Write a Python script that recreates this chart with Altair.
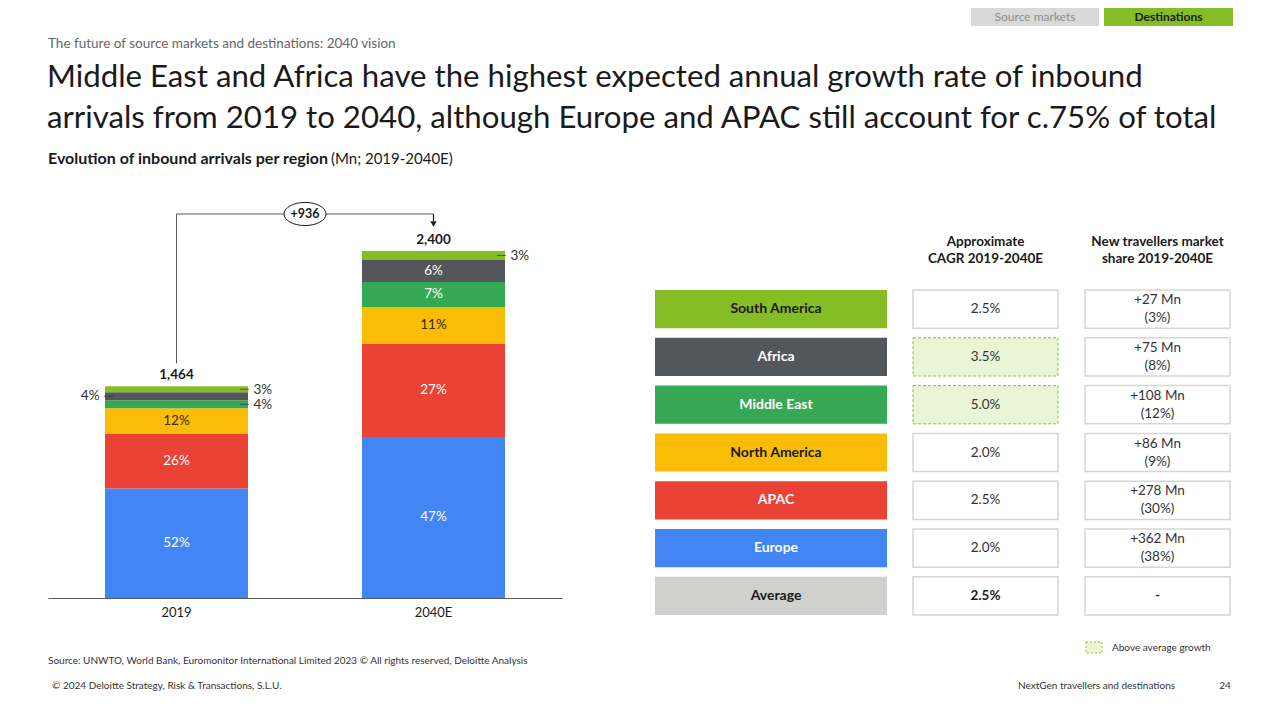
import altair as alt
import pandas as pd

# ---------------- data ----------------
regions = ["Europe", "APAC", "North America", "Middle East", "Africa", "South America"]
years = ["2019", "2040E"]
arrivals_2019 = [757, 378, 178, 55, 55, 41]
arrivals_2040 = [1114, 643, 256, 173, 152, 62]
share_2019 = [52, 26, 12, 4, 4, 3]
share_2040 = [47, 27, 11, 7, 6, 3]

table_rows = ["South America", "Africa", "Middle East", "North America", "APAC", "Europe", "Average"]
cagr = [2.5, 3.5, 5.0, 2.0, 2.5, 2.0, 2.5]
new_mn = [27, 75, 108, 86, 278, 362, None]
new_share = [3, 8, 12, 9, 30, 38, None]

region_colors = {
    "Europe": "#4285F4", "APAC": "#EA4335", "North America": "#FBBC05",
    "Middle East": "#34A853", "Africa": "#53565A", "South America": "#86BC25",
    "Average": "#D0D0CE",
}

SUPTITLE = "The future of source markets and destinations: 2040 vision"
TITLE_1 = "Middle East and Africa have the highest expected annual growth rate of inbound"
TITLE_2 = "arrivals from 2019 to 2040, although Europe and APAC still account for c.75% of total"
SUB_BOLD = "Evolution of inbound arrivals per region"
SUB_REST = "(Mn; 2019-2040E)"
SOURCE = "Source: UNWTO, World Bank, Euromonitor International Limited 2023 © All rights reserved, Deloitte Analysis"
COPYRIGHT = "© 2024 Deloitte Strategy, Risk & Transactions, S.L.U."
FOOT_RIGHT = "NextGen travellers and destinations"
PAGE_NO = "24"
TABS = ["Source markets", "Destinations"]
HEAD_CAGR = ["Approximate", "CAGR 2019-2040E"]
HEAD_NEW = ["New travellers market", "share 2019-2040E"]
LEGEND_TXT = "Above average growth"

FONT = "Lato"
DARK = "#1a1a1a"
OX, OY = 8, 8  # page margin


def px(x):
    return x - OX


def py(y):
    return y - OY


# ---------------- bar data ----------------
rows = []
for yr, vals, shs in [(years[0], arrivals_2019, share_2019), (years[1], arrivals_2040, share_2040)]:
    for i, (r, v, s) in enumerate(zip(regions, vals, shs)):
        rows.append({"year": yr, "region": r, "value": v, "share": s, "ord": i})
bars_df = pd.DataFrame(rows)
tot_2019 = sum(arrivals_2019)
tot_2040 = sum(arrivals_2040)
growth_label = f"+{tot_2040 - tot_2019:,}"

xs = alt.Scale(domain=years, range=[px(48), px(562)], paddingInner=0.4436, paddingOuter=0.2218)
ys = alt.Scale(domain=[0, tot_2040], range=[py(598), py(251)])
xaxis = alt.Axis(title=None, ticks=False, domainColor="#595959", domainWidth=1,
                 labelFont=FONT, labelFontSize=13, labelColor=DARK, labelPadding=8,
                 labelAngle=0, offset=-110, orient="bottom", grid=False)
X = alt.X("year:N", scale=xs, axis=xaxis)
color_scale = alt.Scale(domain=list(region_colors.keys()), range=list(region_colors.values()))

base = alt.Chart(bars_df)
bars = base.mark_bar().encode(
    x=X,
    y=alt.Y("value:Q", scale=ys, axis=None, stack="zero"),
    color=alt.Color("region:N", scale=color_scale, legend=None),
    order=alt.Order("ord:Q", sort="ascending"),
)

stacked = base.transform_stack(
    stack="value", groupby=["year"], sort=[alt.SortField("ord", order="ascending")], as_=["v0", "v1"]
).transform_calculate(mid="(datum.v0 + datum.v1) / 2", lbl="datum.share + '%'")

inside = stacked.transform_filter("datum.value >= 100").mark_text(
    font=FONT, fontSize=13.5, baseline="middle"
).encode(
    x=X, y=alt.Y("mid:Q", scale=ys, axis=None), text="lbl:N",
    color=alt.condition("datum.region == 'North America'", alt.value("#3a2a00"), alt.value("white")),
)
small = stacked.transform_filter("datum.value < 100")
right_lbl = small.transform_filter("datum.region != 'Africa'").mark_text(
    font=FONT, fontSize=13.5, baseline="middle", align="left", dx=77, dy=1, color="#333333"
).encode(x=X, y=alt.Y("mid:Q", scale=ys, axis=None), text="lbl:N")
left_lbl = small.transform_filter("datum.region == 'Africa'").mark_text(
    font=FONT, fontSize=13.5, baseline="middle", align="right", dx=-77, color="#333333"
).encode(x=X, y=alt.Y("mid:Q", scale=ys, axis=None), text="lbl:N")
right_lead = small.transform_filter("datum.region != 'Africa'").mark_tick(
    orient="horizontal", size=9, thickness=1, xOffset=68, color="#333333"
).encode(x=X, y=alt.Y("mid:Q", scale=ys, axis=None))
left_lead = small.transform_filter("datum.region == 'Africa'").mark_tick(
    orient="horizontal", size=9, thickness=1, xOffset=-68, color="#333333"
).encode(x=X, y=alt.Y("mid:Q", scale=ys, axis=None))

totals = base.transform_aggregate(total="sum(value)", groupby=["year"])
total_lbl = totals.mark_text(font=FONT, fontSize=13.5, fontWeight="bold", baseline="middle", dy=-11, color=DARK).encode(
    x=X, y=alt.Y("total:Q", scale=ys, axis=None), text=alt.Text("total:Q", format=",")
)
conn_up = totals.transform_filter(alt.datum.year == years[0]).mark_rule(
    color="#595959", strokeWidth=1, yOffset=-23
).encode(x=X, y=alt.Y("total:Q", scale=ys, axis=None), y2=alt.value(py(214)))
conn_h = totals.mark_line(color="#595959", strokeWidth=1).encode(x=X, y=alt.value(py(214)))
conn_down = totals.transform_filter(alt.datum.year == years[1]).mark_rule(
    color="#1a1a1a", strokeWidth=1.2
).encode(x=X, y=alt.value(py(214)), y2=alt.value(py(221)))
arrow = totals.transform_filter(alt.datum.year == years[1]).mark_point(
    shape="triangle-down", filled=True, size=40, color="#1a1a1a", opacity=1
).encode(x=X, y=alt.value(py(224)))

ellipse_path = "M -1 0 A 1 0.55 0 1 0 1 0 A 1 0.55 0 1 0 -1 0 Z"
ellipse = alt.Chart(alt.Data(values=[{"t": growth_label}])).mark_point(
    shape=ellipse_path, size=1764, filled=True, fill="white", stroke="#1a1a1a", strokeWidth=1, opacity=1
).encode(x=alt.value(px(305)), y=alt.value(py(214)))
ellipse_txt = alt.Chart(alt.Data(values=[{"t": growth_label}])).mark_text(
    font=FONT, fontSize=12.5, fontWeight="bold", baseline="middle", color=DARK
).encode(x=alt.value(px(305)), y=alt.value(py(214)), text="t:N")

bar_group = alt.layer(bars, inside, right_lead, left_lead, right_lbl, left_lbl, total_lbl,
                      conn_up, conn_h, conn_down, arrow)

# ---------------- table ----------------
table_df = pd.DataFrame({"region": table_rows, "cagr": cagr, "new_mn": new_mn, "new_share": new_share})
avg_cagr = cagr[table_rows.index("Average")]
ty = alt.Scale(domain=table_rows, range=[py(290), py(615)], paddingInner=0.2, paddingOuter=0)
Y = alt.Y("region:N", scale=ty, axis=None)
tbase = alt.Chart(table_df)

lab_rect = tbase.mark_rect().encode(
    x=alt.value(px(655)), x2=alt.value(px(887)), y=Y,
    color=alt.Color("region:N", scale=color_scale, legend=None),
)
lab_txt = tbase.mark_text(font=FONT, fontSize=14, fontWeight="bold", baseline="middle").encode(
    x=alt.value(px(776)), y=Y, text="region:N",
    color=alt.condition(
        "datum.region == 'South America' || datum.region == 'North America' || datum.region == 'Average'",
        alt.value(DARK), alt.value("white")),
)
hi_expr = f"datum.region != 'Average' && datum.cagr > {avg_cagr}"
cagr_rect = tbase.transform_filter(f"!({hi_expr})").mark_rect(
    fill="white", stroke="#D6D6D6", strokeWidth=1.5
).encode(x=alt.value(px(913)), x2=alt.value(px(1058)), y=Y)
cagr_hi = tbase.transform_filter(hi_expr).mark_rect(
    fill="#E8F5D6", stroke="#8DBF3A", strokeWidth=1, strokeDash=[3, 2]
).encode(x=alt.value(px(913)), x2=alt.value(px(1058)), y=Y)
tcalc = tbase.transform_calculate(
    cagr_lbl="format(datum.cagr, '.1f') + '%'",
    nt_lbl="datum.new_mn == null ? '-' : '+' + datum.new_mn + ' Mn\\n(' + datum.new_share + '%)'",
)
cagr_txt = tcalc.transform_filter("datum.region != 'Average'").mark_text(
    font=FONT, fontSize=13.5, baseline="middle", color="#333333"
).encode(x=alt.value(px(985.5)), y=Y, text="cagr_lbl:N")
cagr_avg = tcalc.transform_filter("datum.region == 'Average'").mark_text(
    font=FONT, fontSize=13.5, fontWeight="bold", baseline="middle", color=DARK
).encode(x=alt.value(px(985.5)), y=Y, text="cagr_lbl:N")
nt_rect = tbase.mark_rect(fill="white", stroke="#D6D6D6", strokeWidth=1.5).encode(
    x=alt.value(px(1085)), x2=alt.value(px(1230)), y=Y)
nt_two = tcalc.transform_filter("datum.new_mn != null").mark_text(
    font=FONT, fontSize=13.5, baseline="middle", color="#333333", lineBreak="\n", lineHeight=18, dy=-9
).encode(x=alt.value(px(1157.5)), y=Y, text="nt_lbl:N")
nt_one = tcalc.transform_filter("datum.new_mn == null").mark_text(
    font=FONT, fontSize=13.5, fontWeight="bold", baseline="middle", color="#333333"
).encode(x=alt.value(px(1157.5)), y=Y, text="nt_lbl:N")

table_group = alt.layer(lab_rect, lab_txt, cagr_rect, cagr_hi, cagr_txt, cagr_avg, nt_rect, nt_two, nt_one)

# ---------------- annotations ----------------
one = alt.Data(values=[{}])


def txt(t, x, y, size=13, weight="normal", color=DARK, align="left"):
    return alt.Chart(one).mark_text(
        font=FONT, fontSize=size, fontWeight=weight, color=color, align=align, baseline="middle"
    ).encode(x=alt.value(px(x)), y=alt.value(py(y)), text=alt.value(t))


def box(x0, x1, y0, y1, **kw):
    return alt.Chart(one).mark_rect(**kw).encode(
        x=alt.value(px(x0)), x2=alt.value(px(x1)), y=alt.value(max(py(y0), 0)), y2=alt.value(py(y1)))


annot = [
    box(971, 1099, 0, 26, fill="#D9D9D9"),
    box(1104, 1233, 0, 26, fill="#86BC25"),
    txt(TABS[0], 1035, 17, size=12, color="#8C8C8C", align="center"),
    txt(TABS[1], 1168.5, 17, size=12, weight="bold", color=DARK, align="center"),
    txt(SUPTITLE, 48, 44, size=13.5, color="#666666"),
    txt(TITLE_1, 47, 78, size=31.2, color=DARK),
    txt(TITLE_2, 47, 119, size=31.2, color=DARK),
    txt(SUB_BOLD, 48, 159, size=16, weight="bold"),
    txt(SUB_REST, 331, 159, size=15),
    txt(HEAD_CAGR[0], 985.5, 242, size=13.5, weight="bold", align="center"),
    txt(HEAD_CAGR[1], 985.5, 259, size=13.5, weight="bold", align="center"),
    txt(HEAD_NEW[0], 1157.5, 242, size=13.5, weight="bold", align="center"),
    txt(HEAD_NEW[1], 1157.5, 259, size=13.5, weight="bold", align="center"),
    box(1086, 1102, 642, 653, fill="#E8F5D6", stroke="#8DBF3A", strokeWidth=1, strokeDash=[2, 2]),
    txt(LEGEND_TXT, 1112, 648, size=10, color="#333333"),
    txt(SOURCE, 48, 661, size=10, color="#333333"),
    txt(COPYRIGHT, 52, 686, size=10, color="#333333"),
    txt(FOOT_RIGHT, 1018, 686, size=10, color="#333333"),
    txt(PAGE_NO, 1225, 686, size=10, color="#333333", align="center"),
]

chart = alt.layer(
    bar_group, ellipse, ellipse_txt, table_group, *annot
).resolve_scale(
    x="independent", y="independent", color="independent"
).properties(
    width=1264, height=700, autosize=alt.AutoSizeParams(type="none"), padding=0,
    background="white",
).configure_view(stroke=None)

chart.save("out.html", embed_options={"renderer": "svg", "actions": False})
